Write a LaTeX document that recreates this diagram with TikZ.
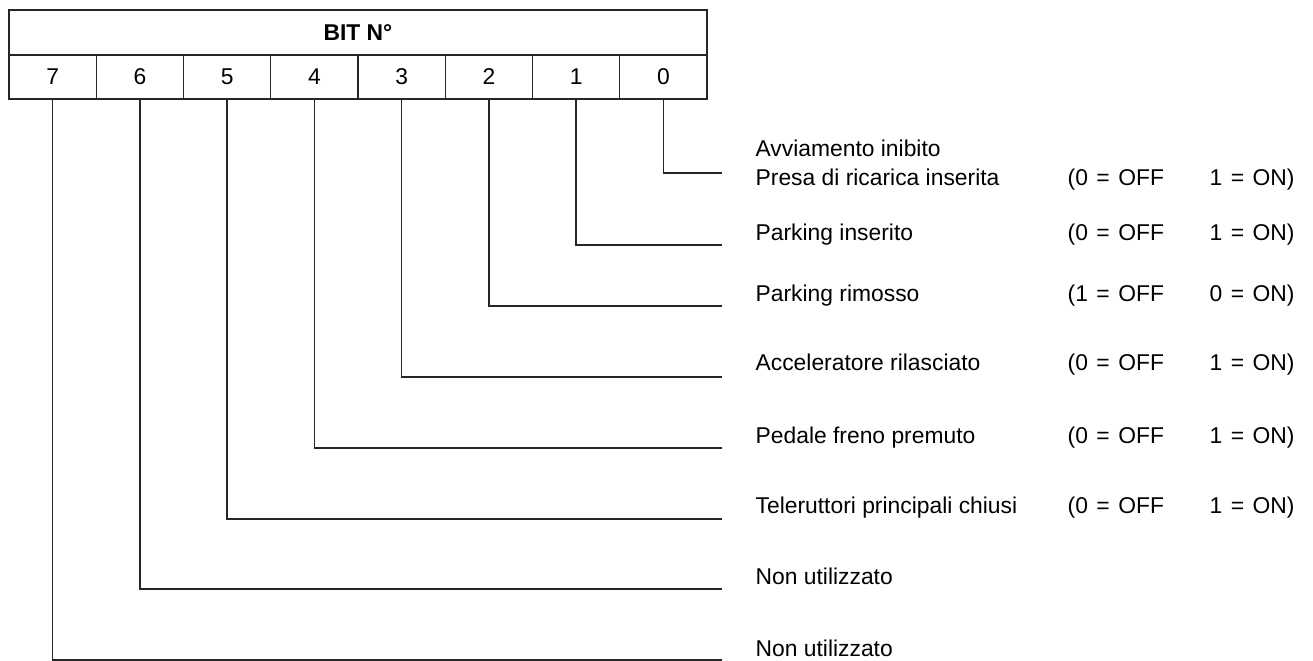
\documentclass[tikz,border=0pt]{standalone}
\usepackage{fontspec}
\setmainfont{Liberation Sans}
\usepackage{tikz}
\usetikzlibrary{positioning}
\newlength{\cellw}
\newlength{\offw}
\newcommand{\eqsp}{\hspace{0.17cm}=\hspace{0.17cm}}
\newcommand{\onoff}[2]{\makebox[\offw][l]{(#1\eqsp OFF}#2\eqsp ON)}
\tikzstyle{cell}=[draw, rectangle, minimum width=\cellw, minimum height=0.88cm, inner sep=0cm, outer sep=0cm]
\tikzstyle{lbl}=[anchor=west, inner sep=0cm]
\tikzstyle{val}=[anchor=west, inner sep=0cm]

\begin{document}
\begin{tikzpicture}[line width=0.75pt, draw=black!85, text depth=0ex, font=\fontsize{13}{15}\selectfont]

				\useasboundingbox (0,0) rectangle (26.26,-13.22);
				\setlength{\cellw}{1.745cm}
				\setlength{\offw}{2.84cm}
				
				\node (head) [cell, minimum width=8\cellw, minimum height=0.9cm, anchor=north west] at (0.18,-0.2) {\bfseries BIT N°};
				%
				\node (b7) [cell, anchor=north west] at (head.south west) {7};
				\node (b6) [cell, right=0cm of b7] {6};
				\node (b5) [cell, right=0cm of b6] {5};
				\node (b4) [cell, right=0cm of b5] {4};
				\node (b3) [cell, right=0cm of b4] {3};
				\node (b2) [cell, right=0cm of b3] {2};
				\node (b1) [cell, right=0cm of b2] {1};
				\node (b0) [cell, right=0cm of b1] {0};
				
				\coordinate (e0) at (14.44,-3.46);
				\coordinate (e1) at (14.44,-4.90);
				\coordinate (e2) at (14.44,-6.12);
				\coordinate (e3) at (14.44,-7.54);
				\coordinate (e4) at (14.44,-8.96);
				\coordinate (e5) at (14.44,-10.38);
				\coordinate (e6) at (14.44,-11.78);
				\coordinate (e7) at (14.44,-13.20);
				
				\node (t0a) [lbl] at (15.10,-2.96) {Avviamento inibito};
				\node (t0) [lbl] at (15.10,-3.54) {Presa di ricarica inserita};
				\node (t1) [lbl] at (15.10,-4.64) {Parking inserito};
				\node (t2) [lbl] at (15.10,-5.86) {Parking rimosso};
				\node (t3) [lbl] at (15.10,-7.24) {Acceleratore rilasciato};
				\node (t4) [lbl] at (15.10,-8.70) {Pedale freno premuto};
				\node (t5) [lbl] at (15.10,-10.10) {Teleruttori principali chiusi};
				\node (t6) [lbl] at (15.10,-11.52) {Non utilizzato};
				\node (t7) [lbl] at (15.10,-12.96) {Non utilizzato};
				
				\node (v0) [val] at (21.34,-3.54) {\onoff{0}{1}};
				\node (v1) [val] at (21.34,-4.64) {\onoff{0}{1}};
				\node (v2) [val] at (21.34,-5.86) {\onoff{1}{0}};
				\node (v3) [val] at (21.34,-7.24) {\onoff{0}{1}};
				\node (v4) [val] at (21.34,-8.70) {\onoff{0}{1}};
				\node (v5) [val] at (21.34,-10.10) {\onoff{0}{1}};
				
				\draw (b0) |- (e0);
				\draw (b1) |- (e1);
				\draw (b2) |- (e2);
				\draw (b3) |- (e3);
				\draw (b4) |- (e4);
				\draw (b5) |- (e5);
				\draw (b6) |- (e6);
				\draw (b7) |- (e7);
\end{tikzpicture}
\end{document}
